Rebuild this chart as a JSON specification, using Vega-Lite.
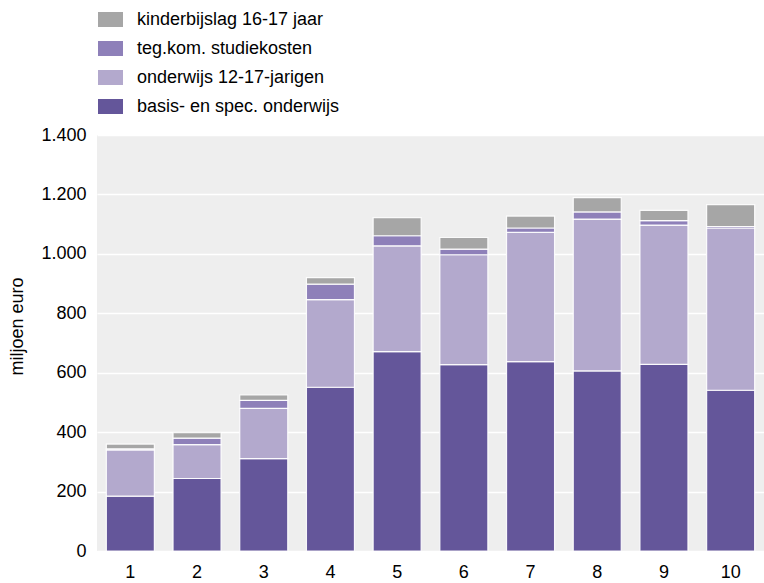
{
  "$schema": "https://vega.github.io/schema/vega-lite/v6.json",
  "width": 667,
  "height": 416,
  "autosize": {"type": "none"},
  "padding": {"left": 97, "top": 135, "right": 0, "bottom": 32},
  "background": "#ffffff",
  "config": {
    "view": {"fill": "#eeeeee", "stroke": null},
    "font": "Liberation Sans"
  },
  "data": {
    "values": [
      {"x": "1", "reeks": "basis- en spec. onderwijs", "o": 1, "v": 185},
      {"x": "1", "reeks": "onderwijs 12-17-jarigen", "o": 2, "v": 155},
      {"x": "1", "reeks": "teg.kom. studiekosten", "o": 3, "v": 4},
      {"x": "1", "reeks": "kinderbijslag 16-17 jaar", "o": 4, "v": 16},
      {"x": "2", "reeks": "basis- en spec. onderwijs", "o": 1, "v": 244},
      {"x": "2", "reeks": "onderwijs 12-17-jarigen", "o": 2, "v": 114},
      {"x": "2", "reeks": "teg.kom. studiekosten", "o": 3, "v": 22},
      {"x": "2", "reeks": "kinderbijslag 16-17 jaar", "o": 4, "v": 18},
      {"x": "3", "reeks": "basis- en spec. onderwijs", "o": 1, "v": 311},
      {"x": "3", "reeks": "onderwijs 12-17-jarigen", "o": 2, "v": 169},
      {"x": "3", "reeks": "teg.kom. studiekosten", "o": 3, "v": 27},
      {"x": "3", "reeks": "kinderbijslag 16-17 jaar", "o": 4, "v": 18},
      {"x": "4", "reeks": "basis- en spec. onderwijs", "o": 1, "v": 551},
      {"x": "4", "reeks": "onderwijs 12-17-jarigen", "o": 2, "v": 295},
      {"x": "4", "reeks": "teg.kom. studiekosten", "o": 3, "v": 52},
      {"x": "4", "reeks": "kinderbijslag 16-17 jaar", "o": 4, "v": 22},
      {"x": "5", "reeks": "basis- en spec. onderwijs", "o": 1, "v": 671},
      {"x": "5", "reeks": "onderwijs 12-17-jarigen", "o": 2, "v": 356},
      {"x": "5", "reeks": "teg.kom. studiekosten", "o": 3, "v": 34},
      {"x": "5", "reeks": "kinderbijslag 16-17 jaar", "o": 4, "v": 61},
      {"x": "6", "reeks": "basis- en spec. onderwijs", "o": 1, "v": 627},
      {"x": "6", "reeks": "onderwijs 12-17-jarigen", "o": 2, "v": 370},
      {"x": "6", "reeks": "teg.kom. studiekosten", "o": 3, "v": 19},
      {"x": "6", "reeks": "kinderbijslag 16-17 jaar", "o": 4, "v": 39},
      {"x": "7", "reeks": "basis- en spec. onderwijs", "o": 1, "v": 637},
      {"x": "7", "reeks": "onderwijs 12-17-jarigen", "o": 2, "v": 435},
      {"x": "7", "reeks": "teg.kom. studiekosten", "o": 3, "v": 15},
      {"x": "7", "reeks": "kinderbijslag 16-17 jaar", "o": 4, "v": 40},
      {"x": "8", "reeks": "basis- en spec. onderwijs", "o": 1, "v": 606},
      {"x": "8", "reeks": "onderwijs 12-17-jarigen", "o": 2, "v": 511},
      {"x": "8", "reeks": "teg.kom. studiekosten", "o": 3, "v": 24},
      {"x": "8", "reeks": "kinderbijslag 16-17 jaar", "o": 4, "v": 48},
      {"x": "9", "reeks": "basis- en spec. onderwijs", "o": 1, "v": 628},
      {"x": "9", "reeks": "onderwijs 12-17-jarigen", "o": 2, "v": 469},
      {"x": "9", "reeks": "teg.kom. studiekosten", "o": 3, "v": 15},
      {"x": "9", "reeks": "kinderbijslag 16-17 jaar", "o": 4, "v": 34},
      {"x": "10", "reeks": "basis- en spec. onderwijs", "o": 1, "v": 541},
      {"x": "10", "reeks": "onderwijs 12-17-jarigen", "o": 2, "v": 546},
      {"x": "10", "reeks": "teg.kom. studiekosten", "o": 3, "v": 5},
      {"x": "10", "reeks": "kinderbijslag 16-17 jaar", "o": 4, "v": 74}
    ]
  },
  "mark": {"type": "bar", "stroke": "#ffffff", "strokeWidth": 1.2, "strokeOpacity": 0.9},
  "encoding": {
    "x": {
      "field": "x",
      "type": "ordinal",
      "sort": ["1","2","3","4","5","6","7","8","9","10"],
      "scale": {"paddingInner": 0.28, "paddingOuter": 0.14},
      "axis": {
        "title": null,
        "labelAngle": 0,
        "domain": false,
        "ticks": false,
        "labelFontSize": 18,
        "labelColor": "#000000",
        "labelPadding": 12,
        "labelFont": "Liberation Sans"
      }
    },
    "y": {
      "field": "v",
      "type": "quantitative",
      "aggregate": "sum",
      "stack": "zero",
      "scale": {"domain": [0, 1400], "nice": false},
      "axis": {
        "title": "miljoen euro",
        "titleFontSize": 18,
        "titleFontWeight": "normal",
        "titleColor": "#000000",
        "titleFont": "Liberation Sans",
        "titleX": -80,
        "titleY": 191,
        "titleAngle": -90,
        "titleAlign": "center",
        "titleBaseline": "middle",
        "values": [0, 200, 400, 600, 800, 1000, 1200, 1400],
        "labelExpr": "replace(format(datum.value, ','), ',', '.')",
        "labelFontSize": 18,
        "labelColor": "#000000",
        "labelPadding": 11,
        "labelFont": "Liberation Sans",
        "domain": false,
        "ticks": false,
        "grid": true,
        "gridColor": "#ffffff",
        "gridWidth": 1.5
      }
    },
    "order": {"field": "o", "type": "quantitative"},
    "color": {
      "field": "reeks",
      "type": "nominal",
      "scale": {
        "domain": ["kinderbijslag 16-17 jaar", "teg.kom. studiekosten", "onderwijs 12-17-jarigen", "basis- en spec. onderwijs"],
        "range": ["#a6a6a6", "#8e80b9", "#b3a9cd", "#64569a"]
      },
      "legend": {
        "title": null,
        "orient": "none",
        "legendX": 1,
        "legendY": -128,
        "symbolType": "M-1,-0.6H1V0.6H-1Z",
        "symbolSize": 625,
        "symbolStrokeWidth": 0,
        "symbolOpacity": 1,
        "labelFontSize": 18,
        "labelColor": "#000000",
        "labelFont": "Liberation Sans",
        "labelOffset": 14,
        "rowPadding": 7,
        "labelLimit": 400
      }
    }
  }
}
